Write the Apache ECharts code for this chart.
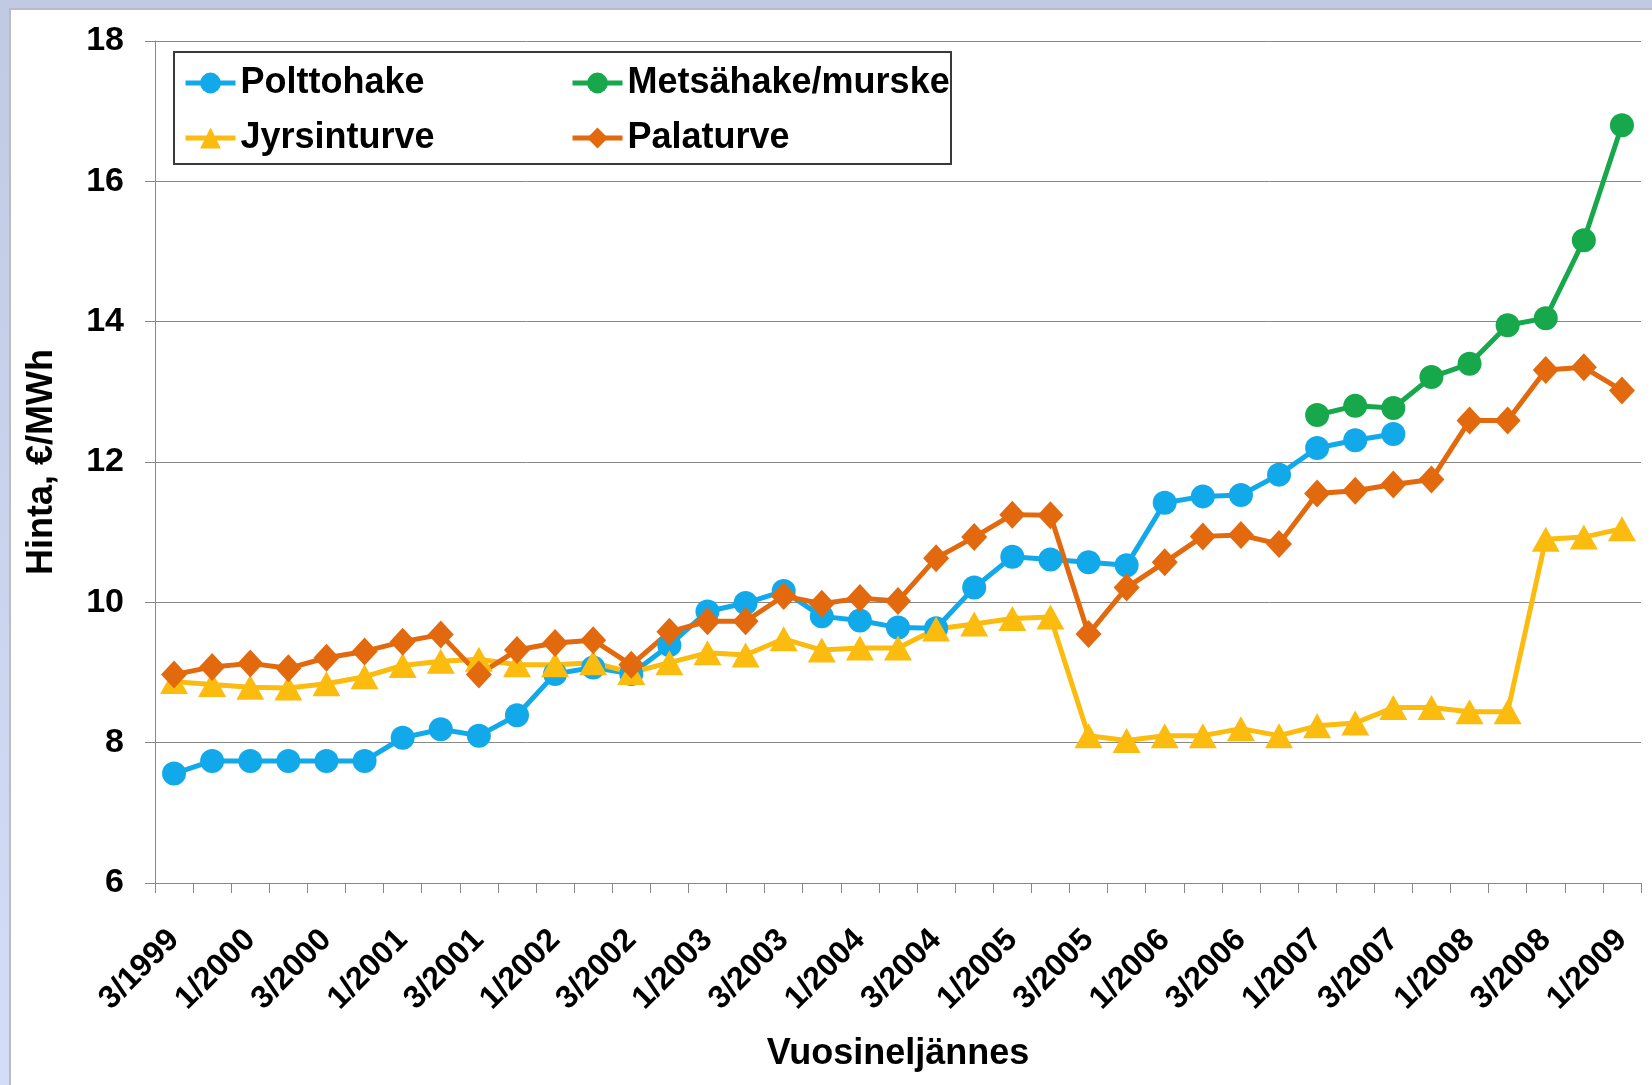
<!DOCTYPE html>
<html>
<head>
<meta charset="utf-8">
<script src="https://cdn.jsdelivr.net/npm/echarts@6.0.0/dist/echarts.min.js"></script>
<style>
  html, body { margin: 0; padding: 0; width: 1652px; height: 1085px; overflow: hidden;
    background: linear-gradient(to bottom, #c0cae3 0%, #d3ddf7 100%); }
  #panel { position: absolute; left: 9px; top: 8px; right: 0; bottom: 0; background: #fff;
    border-left: 2px solid #b9bcc4; border-top: 2px solid #b9bcc4; }
  #chart { position: absolute; left: 0; top: 0; width: 1652px; height: 1085px; }
</style>
</head>
<body>
<div id="panel"></div>
<div id="chart"></div>
<script>
// Quarter categories (quarter/year)
const categories = [
  '3/1999','4/1999',
  '1/2000','2/2000','3/2000','4/2000',
  '1/2001','2/2001','3/2001','4/2001',
  '1/2002','2/2002','3/2002','4/2002',
  '1/2003','2/2003','3/2003','4/2003',
  '1/2004','2/2004','3/2004','4/2004',
  '1/2005','2/2005','3/2005','4/2005',
  '1/2006','2/2006','3/2006','4/2006',
  '1/2007','2/2007','3/2007','4/2007',
  '1/2008','2/2008','3/2008','4/2008',
  '1/2009'
];

const polttohake = [7.56,7.74,7.74,7.74,7.74,7.74,8.07,8.19,8.10,8.39,8.98,9.07,8.98,9.39,9.87,9.99,10.16,9.80,9.74,9.64,9.63,10.21,10.65,10.61,10.57,10.53,11.42,11.51,11.53,11.82,12.20,12.31,12.40,null,null,null,null,null,null];
const metsahake = [null,null,null,null,null,null,null,null,null,null,null,null,null,null,null,null,null,null,null,null,null,null,null,null,null,null,null,null,null,null,12.67,12.80,12.77,13.21,13.40,13.95,14.05,15.16,16.80];
const jyrsinturve = [8.87,8.83,8.79,8.78,8.84,8.94,9.10,9.16,9.19,9.11,9.11,9.14,9.00,9.14,9.28,9.25,9.48,9.32,9.35,9.35,9.62,9.69,9.77,9.79,8.10,8.03,8.10,8.10,8.20,8.10,8.24,8.28,8.50,8.50,8.44,8.44,10.90,10.93,11.05];
const palaturve = [8.97,9.08,9.13,9.06,9.21,9.30,9.44,9.54,8.97,9.32,9.42,9.46,9.11,9.58,9.73,9.73,10.09,9.98,10.06,10.02,10.63,10.93,11.25,11.24,9.55,10.21,10.57,10.94,10.96,10.83,11.55,11.59,11.68,11.75,12.59,12.59,13.31,13.35,13.02];

const yMin = 6, yMax = 18, yStep = 2;
const seriesNames = ['Polttohake', 'Metsähake/murske', 'Jyrsinturve', 'Palaturve'];
const colors = ['#12a9ea', '#17a84c', '#fbbc0f', '#e2690e'];

const FONT = "'Liberation Sans', Arial, sans-serif";
const chart = echarts.init(document.getElementById('chart'), null, { renderer: 'canvas' });

function lineSeries(name, data, color, symbol, size) {
  return {
    name: name, type: 'line', data: data, connectNulls: false,
    symbol: symbol, symbolSize: size, showAllSymbol: true,
    lineStyle: { color: color, width: 5 },
    itemStyle: { color: color },
    emphasis: { disabled: true },
    animation: false
  };
}

const legendText = { fontSize: 36, fontWeight: 'bold', fontFamily: FONT, color: '#000', lineHeight: 36 };

chart.setOption({
  animation: false,
  grid: { left: 155, right: 11, top: 41, bottom: 202, outerBoundsMode: 'none', containLabel: false },
  graphic: [{
    type: 'rect', z: 3, silent: true,
    shape: { x: 174, y: 52, width: 777, height: 112 },
    style: { fill: '#fff', stroke: '#3a3a3a', lineWidth: 2 }
  }],
  legend: [
    { data: ['Polttohake', 'Jyrsinturve'], orient: 'vertical', left: 178, top: 60, z: 5,
      itemWidth: 50, itemHeight: 26, itemGap: 19, textStyle: legendText,
      lineStyle: { width: 5 }, selectedMode: false },
    { data: ['Metsähake/murske', 'Palaturve'], orient: 'vertical', left: 565, top: 60, z: 5,
      itemWidth: 50, itemHeight: 26, itemGap: 19, textStyle: legendText,
      lineStyle: { width: 5 }, selectedMode: false }
  ],
  xAxis: {
    type: 'category', data: categories, boundaryGap: true,
    name: 'Vuosineljännes', nameLocation: 'middle', nameGap: 153,
    nameTextStyle: { fontSize: 36, fontWeight: 'bold', fontFamily: FONT, color: '#000' },
    axisLine: { show: true, lineStyle: { color: '#888', width: 1 } },
    axisTick: { show: true, interval: 0, alignWithLabel: false, length: 10, lineStyle: { color: '#888' } },
    axisLabel: { interval: 1, rotate: 45, margin: 52, fontSize: 32, fontWeight: 'bold', fontFamily: FONT, color: '#000' },
    splitLine: { show: false }
  },
  yAxis: {
    type: 'value', min: yMin, max: yMax, interval: yStep,
    name: 'Hinta, €/MWh', nameLocation: 'middle', nameGap: 95,
    nameTextStyle: { fontSize: 36, fontWeight: 'bold', fontFamily: FONT, color: '#000' },
    axisLine: { show: true, lineStyle: { color: '#888', width: 1 } },
    axisTick: { show: true, length: 10, lineStyle: { color: '#888' } },
    axisLabel: { margin: 31, fontSize: 34, fontWeight: 'bold', fontFamily: FONT, color: '#000' },
    splitLine: { show: true, lineStyle: { color: '#888', width: 1 } }
  },
  series: [
    lineSeries(seriesNames[0], polttohake, colors[0], 'circle', 24),
    lineSeries(seriesNames[1], metsahake, colors[1], 'circle', 24),
    lineSeries(seriesNames[2], jyrsinturve, colors[2], 'triangle', [28, 25]),
    lineSeries(seriesNames[3], palaturve, colors[3], 'diamond', [26, 28])
  ]
});
</script>
</body>
</html>
